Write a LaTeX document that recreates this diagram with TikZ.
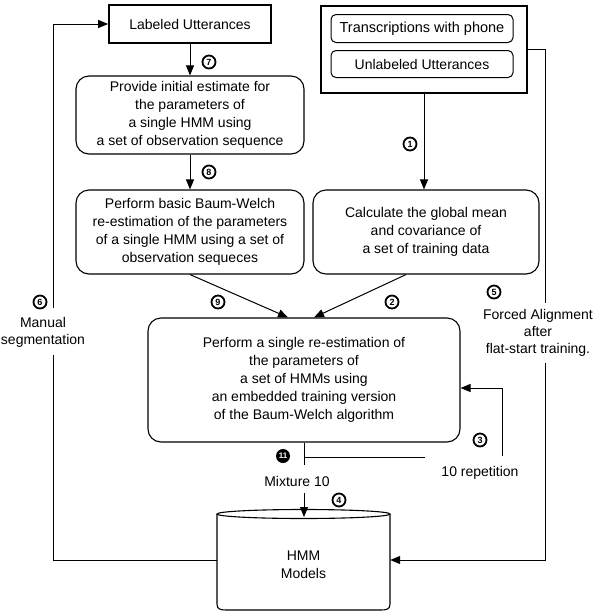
\documentclass[tikz,border=0pt]{standalone}
\usepackage{fontspec}
\setmainfont{Liberation Sans}
\usetikzlibrary{arrows.meta,calc}
\begin{document}
\begin{tikzpicture}[x=1pt,y=-1pt,
  every node/.style={font=\fontsize{14}{18}\selectfont, align=center, inner sep=0pt},
  line/.style={line width=1pt},
  arr/.style={line width=1pt, -{Triangle[length=10pt,width=8pt]}},
  plainbox/.style={draw, line width=1.6pt},
  thickbox/.style={draw, line width=2.6pt},
  smallbox/.style={draw, line width=1pt, rounded corners=5pt},
  roundbox/.style={draw, line width=1.1pt, rounded corners=13pt},
  num/.style={circle, draw, line width=1.8pt, minimum size=13pt, font=\fontsize{9}{9}\selectfont\bfseries},
  numfill/.style={circle, fill=black, text=white, minimum size=14pt, font=\fontsize{8}{8}\selectfont\bfseries},
  lbl/.style={font=\fontsize{14}{17}\selectfont}
]
\fill[white] (0,0) rectangle (611,611);
\useasboundingbox (0,0) rectangle (611,611);

% boxes
\node[plainbox, minimum width=162pt, minimum height=38pt] (lab) at (190,24) {Labeled Utterances};
\node[thickbox, minimum width=206pt, minimum height=87pt] (src) at (424,49.5) {};
\node[smallbox, minimum width=182pt, minimum height=28pt, font=\fontsize{14.5}{18}\selectfont] (trans) at (422,28.5) {Transcriptions with phone};
\node[smallbox, minimum width=182pt, minimum height=27pt] (unlab) at (422,64) {Unlabeled Utterances};
\node[roundbox, minimum width=228pt, minimum height=78pt] (prov) at (190,115)
  {Provide initial estimate for\\the parameters of\\a single HMM using\\a set of observation sequence};
\node[roundbox, minimum width=228pt, minimum height=84pt] (basic) at (190,232)
  {Perform basic Baum-Welch\\re-estimation of the parameters\\of a single HMM using a set of\\observation sequeces};
\node[roundbox, minimum width=226pt, minimum height=84pt] (calc) at (426,232)
  {Calculate the global mean\\and covariance of\\a set of training data};
\node[roundbox, minimum width=312pt, minimum height=124pt] (emb) at (304,380)
  {Perform a single re-estimation of\\the parameters of\\a set of HMMs using\\an embedded training version\\of the Baum-Welch algorithm};

% cylinder
\draw[line width=1.1pt] (217,514) -- (217,604) .. controls (217,609) and (220,610) .. (226,610)
  -- (381,610) .. controls (387,610) and (390,609) .. (390,604) -- (390,514);
\draw[line width=1.1pt] (303.5,514) ellipse [x radius=86.5pt, y radius=4.5pt];
\node (hmm) at (303.5,560) [minimum width=173pt, minimum height=100pt] {};
\node at (303.5,565) {HMM\\Models};

% free labels
\node[lbl] (manual) at (43,332) {Manual\\segmentation};
\node[lbl] (forced) at (538,333) {Forced Alignment\\after\\flat-start training.};
\node[lbl] (rep) at (480,473) {10 repetition};
\node[lbl] (mix) at (297,481) {Mixture 10};

% coordinates for connectors
\coordinate (lb) at (53,355);
\coordinate (lt) at (53,308);
\coordinate (rt) at (545,49.5);
\coordinate (rm) at (545,303);
\coordinate (rb) at (545,363);
\coordinate (m1) at (304,465);
\coordinate (m2) at (304,493);
\coordinate (h1) at (304,457);
\coordinate (h2) at (425,457);
\coordinate (loopb) at (502,456);
\coordinate (loopt) at (502,388);
\coordinate (cyltop) at (304,517);

% connectors
\draw[line] (hmm.west) -| (lb);
\draw[arr] (lt) |- (lab.west);
\draw[line] (src.east) -- (rt) -- (rm);
\draw[arr] (rb) |- (hmm.east);
\draw[arr] (src.south) -- (src.south |- calc.north);
\draw[arr] (lab.south) -- (prov.north);
\draw[arr] (prov.south) -- (basic.north);
\draw[arr] (basic.south) -- ($(emb.north)+(-16,0)$);
\draw[arr] ($(calc.south)+(-20,0)$) -- ($(emb.north)+(10,0)$);
\draw[line] (emb.south) -- (m1);
\draw[arr] (m2) -- (cyltop);
\draw[line] (h1) -- (h2);
\draw[arr] (loopb) -- (loopt) -- (loopt -| emb.east);

% circled numbers
\node[num] (n7) at (209,62) {7};
\node[num] (n8) at (209,172) {8};
\node[num] (n1) at (410,144) {1};
\node[num] (n9) at (218,302) {9};
\node[num] (n2) at (392,302) {2};
\node[num] (n5) at (494,292) {5};
\node[num] (n6) at (40,302) {6};
\node[num] (n3) at (480,440) {3};
\node[numfill] (n11) at (283,456) {11};
\node[num] (n4) at (339,500) {4};
\end{tikzpicture}
\end{document}
